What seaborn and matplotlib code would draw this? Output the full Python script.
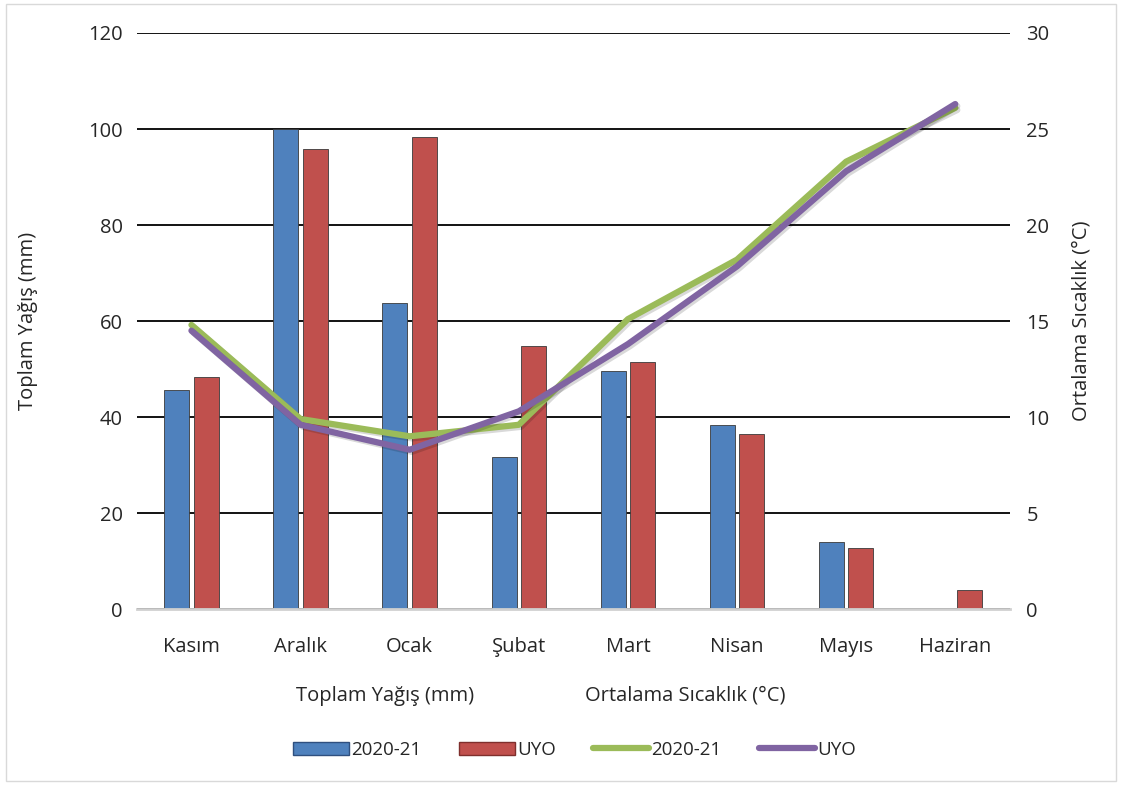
import numpy as np
import pandas as pd
import seaborn as sns
import matplotlib.pyplot as plt
import matplotlib.patheffects as pe
from matplotlib.patches import Patch, Rectangle
from matplotlib.lines import Line2D

# months (Turkish)
months = ['Kasım', 'Aralık', 'Ocak', 'Şubat', 'Mart', 'Nisan', 'Mayıs', 'Haziran']

# total rainfall (mm)
rain_2020 = [45.6, 100.0, 63.7, 31.6, 49.5, 38.3, 13.9, np.nan]
rain_uyo = [48.3, 95.9, 98.4, 54.8, 51.4, 36.4, 12.7, 3.9]

# mean temperature (°C)
temp_2020 = [14.8, 9.9, 9.0, 9.6, 15.1, 18.2, 23.3, 26.1]
temp_uyo = [14.5, 9.6, 8.3, 10.3, 13.8, 17.85, 22.8, 26.3]

series_names = ['2020-21', 'UYO']
bar_colors = ['#4F81BD', '#C0504D']
line_colors = ['#9BBB59', '#8064A2']

rain_df = pd.DataFrame({
    'ay': months * 2,
    'yagis': rain_2020 + rain_uyo,
    'seri': [series_names[0]] * 8 + [series_names[1]] * 8,
})
temp_df = pd.DataFrame({
    'ay': months * 2,
    'sicaklik': temp_2020 + temp_uyo,
    'seri': [series_names[0]] * 8 + [series_names[1]] * 8,
})

sns.set_style('white')
plt.rcParams['font.family'] = ['Open Sans', 'DejaVu Sans']
fs = 14.5

fig = plt.figure(figsize=(11.22, 7.85), dpi=100)
ax = fig.add_axes([0.122, 0.224, 0.778, 0.734])

sns.barplot(data=rain_df.dropna(), x='ay', y='yagis', hue='seri', order=months,
            hue_order=series_names, palette=bar_colors, saturation=1, width=0.54, gap=0.15,
            edgecolor='#3a3a3a', linewidth=0.6, legend=False, ax=ax)

ax.set_ylim(0, 120)
ax.set_yticks(range(0, 121, 20))
ax.set_xlim(-0.5, 7.5)
ax.grid(axis='y', color='black', linewidth=1.3)
ax.set_axisbelow(True)
for s in ['left', 'right', 'top']:
    ax.spines[s].set_visible(False)
ax.spines['bottom'].set_color('#d0d0d0')
ax.spines['bottom'].set_linewidth(2)
ax.tick_params(axis='y', length=0, labelsize=fs, pad=10)
ax.tick_params(axis='x', length=0, labelsize=fs, pad=20)
ax.set_xlabel('')
ax.set_ylabel('Toplam Yağış (mm)', fontsize=fs, labelpad=36)

ax2 = ax.twinx()
sns.lineplot(data=temp_df, x='ay', y='sicaklik', hue='seri', hue_order=series_names,
             palette=line_colors, linewidth=4.5, legend=False, ax=ax2, sort=False,
             path_effects=[pe.SimpleLineShadow(offset=(1.5, -1.5), alpha=0.15), pe.Normal()])
ax2.set_ylim(0, 30)
ax2.set_yticks(range(0, 31, 5))
for s in ['left', 'right', 'top', 'bottom']:
    ax2.spines[s].set_visible(False)
ax2.tick_params(axis='y', length=0, labelsize=fs, pad=12)
ax2.set_ylabel('Ortalama Sıcaklık (°C)', fontsize=fs, labelpad=16)
ax2.set_xlim(-0.5, 7.5)

# axis titles under the x axis
fig.text(0.343, 0.114, 'Toplam Yağış (mm)', fontsize=fs, ha='center', va='center')
fig.text(0.611, 0.114, 'Ortalama Sıcaklık (°C)', fontsize=fs, ha='center', va='center')

handles = [
    Patch(facecolor=bar_colors[0], edgecolor='#2f4f7f', label=series_names[0]),
    Patch(facecolor=bar_colors[1], edgecolor='#7f2f2d', label=series_names[1]),
    Line2D([], [], color=line_colors[0], linewidth=4.5, solid_capstyle='round', label=series_names[0]),
    Line2D([], [], color=line_colors[1], linewidth=4.5, solid_capstyle='round', label=series_names[1]),
]
fig.legend(handles=handles, loc='center', bbox_to_anchor=(0.512, 0.045), ncol=4,
           frameon=False, fontsize=13.5, handlelength=3.0, handleheight=0.7,
           handletextpad=0.1, columnspacing=2.0)

# light outer border
fig.patches.append(Rectangle((0.005, 0.005), 0.99, 0.99, transform=fig.transFigure,
                             fill=False, edgecolor='#d9d9d9', linewidth=1))

fig.savefig('out.png', dpi=100)
